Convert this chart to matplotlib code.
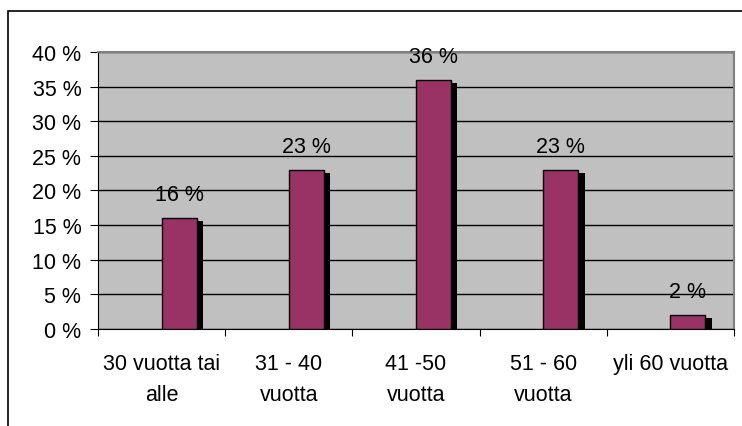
import matplotlib.pyplot as plt
import matplotlib.transforms as mtransforms
from matplotlib.patches import Rectangle
import numpy as np

plt.rcParams['font.family'] = ['Liberation Sans', 'DejaVu Sans']

# data
categories = ['30 vuotta tai\nalle', '31 - 40\nvuotta', '41 -50\nvuotta', '51 - 60\nvuotta', 'yli 60 vuotta']
values = [16, 23, 36, 23, 2]
yticks = [0, 5, 10, 15, 20, 25, 30, 35, 40]

bar_color = '#993366'
bg_color = '#C0C0C0'
fs = 15.5

fig = plt.figure(figsize=(7.42, 4.27), dpi=100)
ax = fig.add_axes([0.1321, 0.2272, 0.8571, 0.6487])
ax.set_facecolor(bg_color)

# outer chart border (only top and left are visible in the picture)
fig.patches.append(Rectangle((8 / 742, -0.1), 1.2, 1.1 - 12 / 427, transform=fig.transFigure,
                             fill=False, edgecolor='black', linewidth=1.2))

x = np.arange(len(values)) + 0.5
width = 0.275

# drop shadow behind the bars
shadow = mtransforms.offset_copy(ax.transData, fig=fig, x=6.4, y=-3, units='dots')
ax.bar(x, values, width=width, align='edge', color='black', edgecolor='none',
       transform=shadow, zorder=2)
bars = ax.bar(x, values, width=width, align='edge', color=bar_color, edgecolor='black',
              linewidth=1, zorder=3)

for b, v in zip(bars, values):
    ax.annotate(f'{v} %', (b.get_x() + b.get_width() / 2, v), xytext=(0, 17),
                textcoords='offset points', ha='center', va='center', fontsize=fs, zorder=4)

ax.set_xlim(0, len(values))
ax.set_ylim(0, 40)
ax.set_yticks(yticks)
ax.set_yticklabels([f'{t} %' for t in yticks], fontsize=fs)
ax.yaxis.grid(True, color='black', linewidth=1)
ax.set_axisbelow(True)

ax.set_xticks(np.arange(len(values) + 1))
ax.set_xticklabels([])
ax.set_xticks(x, minor=True)
ax.set_xticklabels(categories, minor=True, fontsize=fs, linespacing=1.68, va='top')
ax.tick_params(axis='x', which='minor', length=0, pad=17)
ax.tick_params(axis='x', which='major', length=5, color='black')
ax.tick_params(axis='y', length=6, pad=6, color='black')

for s in ['left', 'bottom']:
    ax.spines[s].set_color('black')
for s in ['top', 'right']:
    ax.spines[s].set_color('#808080')
    ax.spines[s].set_linewidth(1.5)

fig.savefig('out.png', dpi=100)
